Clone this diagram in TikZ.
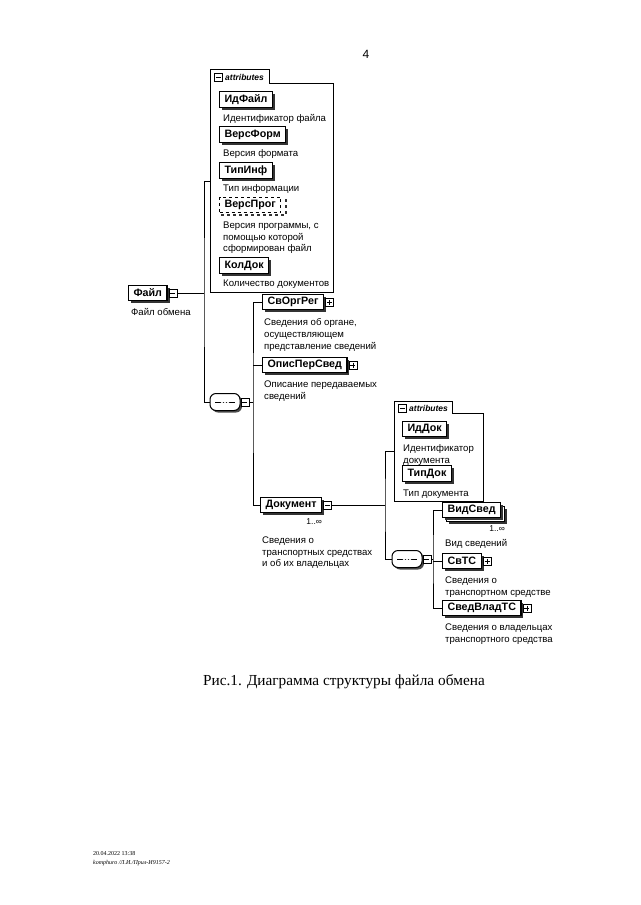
\documentclass[tikz,border=0pt]{standalone}
\usepackage{fontspec}
\setmainfont{Liberation Serif}
\setsansfont{Liberation Sans}
\usetikzlibrary{shadows}

\begin{document}
\begin{tikzpicture}[x=1pt,y=-1pt,
	elem/.style={draw,line width=1.1pt,fill=white,anchor=west,inner xsep=5pt,inner ysep=0pt,minimum height=15.5pt,
		font=\sffamily\bfseries\fontsize{10.7}{12}\selectfont,
		drop shadow={shadow xshift=2.5pt,shadow yshift=-2.5pt,fill=black!80,opacity=1}},
	optelem/.style={draw,dashed,line width=1.1pt,fill=white,anchor=west,inner xsep=5pt,inner ysep=0pt,minimum height=15.5pt,
		font=\sffamily\bfseries\fontsize{10.7}{12}\selectfont},
	desc/.style={anchor=north west,inner sep=0pt,align=left,font=\sffamily\fontsize{9.6}{11.7}\selectfont},
	mult/.style={anchor=north east,inner sep=0pt,font=\sffamily\fontsize{8.5}{10}\selectfont},
	plusbox/.style={draw,fill=white,line width=0.8pt,minimum size=8pt,inner sep=0pt,anchor=west,
		path picture={\draw ([xshift=1.5pt]path picture bounding box.west) -- ([xshift=-1.5pt]path picture bounding box.east);
			\draw ([yshift=-1.5pt]path picture bounding box.north) -- ([yshift=1.5pt]path picture bounding box.south);}},
	minusbox/.style={draw,fill=white,line width=0.8pt,minimum size=8pt,inner sep=0pt,anchor=west,
		path picture={\draw ([xshift=1.5pt]path picture bounding box.west) -- ([xshift=-1.5pt]path picture bounding box.east);}},
	seqbox/.style={draw,line width=1pt,fill=white,rounded corners=6pt,minimum width=30pt,minimum height=17pt,
		drop shadow={shadow xshift=2pt,shadow yshift=-2pt,fill=black!70,opacity=1},
		path picture={\draw[line width=0.8pt] ([xshift=5pt]path picture bounding box.west) -- ([xshift=-5pt]path picture bounding box.east);
			\foreach \d in {-3,0,3} \fill ([xshift=\d pt]path picture bounding box.center) circle (1.3pt);}},
	attrbox/.style={inner sep=0pt},
	tabtext/.style={anchor=west,inner sep=0pt,font=\sffamily\bfseries\itshape\fontsize{8.5}{10}\selectfont},
	conn/.style={line width=0.9pt}]
	\useasboundingbox[fill=white] (0,0) rectangle (640,905);

	\node[font=\sffamily\fontsize{12}{14}\selectfont] (pagenum) at (366,54) {4};

	\node[attrbox,minimum width=122pt,minimum height=222pt] (attr1) at (272,181) {};
	\draw[line width=1pt] (attr1.south west) -- (attr1.north west) -- ++(59,0) -- ++(0,14) -- ([yshift=-14pt]attr1.north east) -- (attr1.south east) -- cycle;
	\node[minusbox] (attr1x) at (214,77) {};
	\node[tabtext] (attr1t) at (225,77) {attributes};

	\node[elem] (idfajl) at (219,99.5) {ИдФайл};
	\node[desc] at (223,114.5) {Идентификатор файла};
	\node[elem] (versform) at (219,134.5) {ВерсФорм};
	\node[desc] at (223,149.5) {Версия формата};
	\node[elem] (tipinf) at (219,170.5) {ТипИнф};
	\node[desc] at (223,184.5) {Тип информации};
	\draw[dashed,line width=2pt,black!80] (221,214.5) -- (286,214.5) -- (286,199);
	\node[optelem] (versprog) at (219,205) {ВерсПрог};
	\node[desc] at (223,221.5) {Версия программы, с\\помощью которой\\сформирован файл};
	\node[elem] (koldok) at (219,265.5) {КолДок};
	\node[desc] at (223,279.5) {Количество документов};

	\node[elem] (fajl) at (128,293) {Файл};
	\node[minusbox] (fajlx) at ([xshift=1pt]fajl.east) {};
	\node[desc] at (131,308.5) {Файл обмена};

	\node[seqbox] (seq1) at (225,402) {};
	\node[minusbox] (seq1x) at (seq1.east) {};

	\node[elem] (svorgreg) at (262,302) {СвОргРег};
	\node[plusbox] (svorgregx) at ([xshift=1pt]svorgreg.east) {};
	\node[desc] at (264,318.5) {Сведения об органе,\\осуществляющем\\представление сведений};
	\node[elem] (opispersved) at (262,365) {ОписПерСвед};
	\node[plusbox] (opispersvedx) at ([xshift=1pt]opispersved.east) {};
	\node[desc] at (264,380.5) {Описание передаваемых\\сведений};
	\node[elem] (dokument) at (260,505) {Документ};
	\node[minusbox] (dokumentx) at ([xshift=1pt]dokument.east) {};
	\node[mult] (dokumentm) at ([yshift=-5pt]dokument.south east) {1..∞};
	\node[desc] at (262,536.5) {Сведения о\\транспортных средствах\\и об их владельцах};

	\node[attrbox,minimum width=88pt,minimum height=99pt] (attr2) at (439,451.5) {};
	\draw[line width=1pt] (attr2.south west) -- (attr2.north west) -- ++(58,0) -- ++(0,12) -- ([yshift=-12pt]attr2.north east) -- (attr2.south east) -- cycle;
	\node[minusbox] (attr2x) at (398,408) {};
	\node[tabtext] (attr2t) at (409,408) {attributes};
	\node[elem] (iddok) at (402,429) {ИдДок};
	\node[desc] at (403,444.5) {Идентификатор\\документа};
	\node[elem] (tipdok) at (402,473.5) {ТипДок};
	\node[desc] at (403,489.5) {Тип документа};

	\node[seqbox] (seq2) at (407,559) {};
	\node[minusbox] (seq2x) at (seq2.east) {};

	\node[elem] (vidsvedb) at (446,514) {\phantom{ВидСвед}};
	\node[elem] (vidsved) at (442,510) {ВидСвед};
	\node[mult] (vidsvedm) at ([yshift=-3pt]vidsvedb.south east) {1..∞};
	\node[desc] at (445,539.5) {Вид сведений};
	\node[elem] (svts) at (442,561) {СвТС};
	\node[plusbox] (svtsx) at ([xshift=1pt]svts.east) {};
	\node[desc] at (445,576.5) {Сведения о\\транспортном средстве};
	\node[elem] (svedvladts) at (442,608) {СведВладТС};
	\node[plusbox] (svedvladtsx) at ([xshift=1pt]svedvladts.east) {};
	\node[desc] at (445,623.5) {Сведения о владельцах\\транспортного средства};

	\coordinate (b1) at (204,293);
	\coordinate (b2) at (253,402);
	\coordinate (b3) at (385,505);
	\coordinate (b4) at (433,559);
	\draw[conn] (fajlx.east) -- (b1);
	\draw[conn] (attr1.west) -| (b1) |- (seq1.west);
	\draw[conn] (seq1x.east) -- (b2);
	\draw[conn] (svorgreg.west) -| (b2) |- (dokument.west);
	\draw[conn] (opispersved.west) -- (opispersved.west -| b2);
	\draw[conn] (dokumentx.east) -- (b3);
	\draw[conn] (attr2.west) -| (b3) |- (seq2.west);
	\draw[conn] (seq2x.east) -- (b4);
	\draw[conn] (vidsved.west) -| (b4) |- (svedvladts.west);
	\draw[conn] (svts.west) -- (svts.west -| b4);

	\node[font=\fontsize{15.3}{18}\selectfont] (caption) at (344,682) {Рис.1. Диаграмма структуры файла обмена};
	\node[anchor=base west,inner sep=0pt,font=\fontsize{6}{7}\selectfont] (stamp) at (93,855) {20.04.2022 13:38};
	\node[anchor=base west,inner sep=0pt,font=\itshape\fontsize{6}{7}\selectfont] (stampb) at (93,864) {komphuro /Л.И./Прил-И9157-2};
\end{tikzpicture}
\end{document}
